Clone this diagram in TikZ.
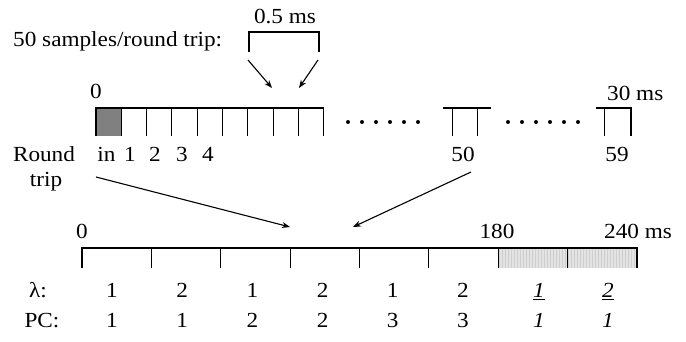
\documentclass[tikz,border=0pt]{standalone}
\usepackage{fontspec}
\setmainfont{Liberation Serif}
\usetikzlibrary{arrows.meta}
% labels are set slightly wide
\newcommand\wideset[1]{\scalebox{1.08}[1]{#1}}
\begin{document}
\begin{tikzpicture}[x=1pt,y=-1pt,
  lbl/.style={font=\fontsize{21.5}{24}\selectfont, inner sep=0pt, anchor=base},
  lblw/.style={lbl, anchor=base west},
  rim/.style={line width=1.8pt},
  edge/.style={line width=2.6pt},
  tick/.style={line width=1pt},
  conn/.style={-{Stealth[length=8pt,width=6pt]}, line width=1.1pt},
  dotrow/.style={fill=black}]
\useasboundingbox (0,0) rectangle (686,342);

% ---------- sampling within one round trip ----------
\node[lblw] (samples) at (13,46.5) {\wideset{50 samples/round trip:}};
\node[lbl] (halfms) at (285,24) {\wideset{0.5 ms}};
\draw[line width=1.3pt] (249,52) -- (249,32) -- (319,32) -- (319,52);
\coordinate (brL) at (248,60);
\coordinate (brR) at (318,60);
\coordinate (cellL) at (272,88);
\coordinate (cellR) at (299,88);
\draw[conn] (brL) -- (cellL);
\draw[conn] (brR) -- (cellR);

% first block of cells
\fill[black!50] (96,108) rectangle (121.3,136);
\foreach \i in {1,...,9} \draw[tick] (96+25.3*\i,108) -- ++(0,28);
\draw[rim] (96,108) -- (323.7,108);
\draw[edge] (96,136) -- (96,107.1);
\foreach \k in {0,...,5} \fill[dotrow] (348+14*\k,122) circle (2);
% block around sample 50
\draw[rim] (443,108) -- (491,108);
\draw[tick] (452,108) -- (452,136);
\draw[tick] (477,108) -- (477,136);
\foreach \k in {0,...,5} \fill[dotrow] (508+14*\k,122) circle (2);
% last sample
\draw[rim] (596,108) -- (631,108);
\draw[tick] (604,108) -- (604,136);
\draw[edge] (631,107.1) -- (631,136);

\node[lbl] (t0) at (96,99) {\wideset{0}};
\node[lblw] (t30) at (607,100.5) {\wideset{30 ms}};
\node[lbl] (sin) at (106.5,162) {\wideset{in}};
\node[lbl] (s1) at (130,162) {\wideset{1}};
\node[lbl] (s2) at (155,162) {\wideset{2}};
\node[lbl] (s3) at (182,162) {\wideset{3}};
\node[lbl] (s4) at (208,162) {\wideset{4}};
\node[lbl] (s50) at (463,162) {\wideset{50}};
\node[lbl] (s59) at (617,162) {\wideset{59}};
\node[lbl] (round) at (44,162) {\wideset{Round}};
\node[lbl] (trip) at (46,186) {\wideset{trip}};

% ---------- round trips within one frame ----------
\coordinate (rtA) at (96,177);
\coordinate (rtB) at (471,172);
\coordinate (frA) at (290,227);
\coordinate (frB) at (353,227);
\draw[conn] (rtA) -- (frA);
\draw[conn] (rtB) -- (frB);

\fill[gray!22] (498,248) rectangle (637,268);
\foreach \j in {0,...,45} \draw[gray!38, line width=0.7pt] (499.5+3*\j,248) -- ++(0,20);
\foreach \i in {1,...,7} \draw[tick] (82+69.375*\i,248) -- ++(0,20);
\draw[rim] (82,248) -- (637,248);
\draw[edge] (82,268) -- (82,247.1);
\draw[edge] (637,247.1) -- (637,268);

\node[lbl] (f0) at (82,239) {\wideset{0}};
\node[lbl] (f180) at (497,239) {\wideset{180}};
\node[lblw] (f240) at (604,239) {\wideset{240 ms}};

\node[lbl] (lam) at (38,297.5) {\wideset{λ:}};
\node[lbl] (pc) at (42,327) {\wideset{PC:}};
\foreach \v [count=\c] in {1,2,1,2,1,2}
  \node[lbl] (lam\c) at (112+70.2*\c-70.2,297.5) {\wideset{\v}};
\foreach \v [count=\c] in {1,1,2,2,3,3}
  \node[lbl] (pc\c) at (112+70.2*\c-70.2,327) {\wideset{\v}};
\node[lbl] (lam7) at (539,297.5) {\wideset{\underline{\textit{1}}}};
\node[lbl] (lam8) at (608,297.5) {\wideset{\underline{\textit{2}}}};
\node[lbl] (pc7) at (539,327) {\wideset{\textit{1}}};
\node[lbl] (pc8) at (608,327) {\wideset{\textit{1}}};
\end{tikzpicture}
\end{document}
